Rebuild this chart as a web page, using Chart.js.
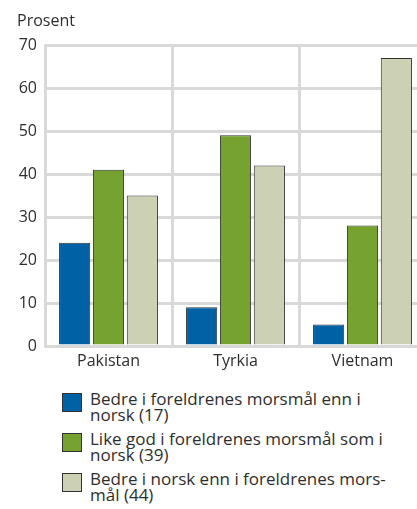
<!DOCTYPE html>
<html>
<head>
<meta charset="utf-8">
<script src="https://cdn.jsdelivr.net/npm/chart.js@4/dist/chart.umd.min.js"></script>
<style>
  html, body { margin: 0; padding: 0; background: #fff; overflow: hidden; }
  body { width: 417px; height: 509px; position: relative; font-family: "Open Sans", sans-serif; color: #2e2e2e; }
  #wrap { position: absolute; left: 0; top: 0; width: 426px; height: 375px; }
  #unit { position: absolute; left: 17px; top: 9px; font-size: 16px; }
  #legend { position: absolute; left: 62px; top: 391px; font-size: 17px; line-height: 16px; }
  .item { display: flex; align-items: flex-start; margin-bottom: 8px; }
  .box { width: 18px; height: 17px; border: 1px solid #333; margin-right: 8px; flex: none; margin-top: 2px; }
</style>
</head>
<body>
<div id="wrap"><canvas id="chart"></canvas></div>
<div id="unit">Prosent</div>
<div id="legend"></div>
<script>
// kategorier og verdier
const categories = ['Pakistan', 'Tyrkia', 'Vietnam'];
const bedreMorsmal = [24, 9, 5];
const likeGod = [41, 49, 28];
const bedreNorsk = [35, 42, 67];
const seriesLabels = [
  ['Bedre i foreldrenes morsmål enn i', 'norsk (17)'],
  ['Like god i foreldrenes morsmål som i', 'norsk (39)'],
  ['Bedre i norsk enn i foreldrenes mors-', 'mål (44)']
];
const yTicks = [0, 10, 20, 30, 40, 50, 60, 70];

const colors = ['#0062a4', '#76a22f', '#cdd1b4'];
const gridColor = '#d9d9d9';

const series = [bedreMorsmal, likeGod, bedreNorsk];

new Chart(document.getElementById('chart'), {
  type: 'bar',
  data: {
    labels: categories,
    datasets: series.map((vals, i) => ({
      label: seriesLabels[i].join(' '),
      data: vals,
      backgroundColor: colors[i],
      borderColor: '#333',
      borderWidth: 1,
      categoryPercentage: 0.8,
      barPercentage: 0.92
    }))
  },
  options: {
    responsive: true,
    maintainAspectRatio: false,
    animation: false,
    layout: { padding: { top: 45, right: 0, left: 0, bottom: 0 } },
    plugins: { legend: { display: false }, tooltip: { enabled: false } },
    scales: {
      x: {
        grid: { color: gridColor, lineWidth: 3, drawTicks: false, offset: true },
        border: { color: gridColor, width: 3 },
        ticks: { color: '#2e2e2e', font: { family: 'Open Sans', size: 16 }, padding: 6 },
        afterFit: s => { s.height = 29; }
      },
      y: {
        min: 0, max: 70,
        afterBuildTicks: s => { s.ticks = yTicks.map(v => ({ value: v })); },
        grid: { color: gridColor, lineWidth: 3, drawTicks: false },
        border: { color: gridColor, width: 3 },
        ticks: { color: '#2e2e2e', font: { family: 'Open Sans', size: 16 }, padding: 8 },
        afterFit: s => { s.width = 45; }
      }
    }
  }
});

// legende
const legend = document.getElementById('legend');
seriesLabels.forEach((lines, i) => {
  const item = document.createElement('div');
  item.className = 'item';
  const box = document.createElement('div');
  box.className = 'box';
  box.style.background = colors[i];
  const txt = document.createElement('div');
  txt.innerHTML = lines.join('<br>');
  item.appendChild(box);
  item.appendChild(txt);
  legend.appendChild(item);
});
</script>
</body>
</html>
